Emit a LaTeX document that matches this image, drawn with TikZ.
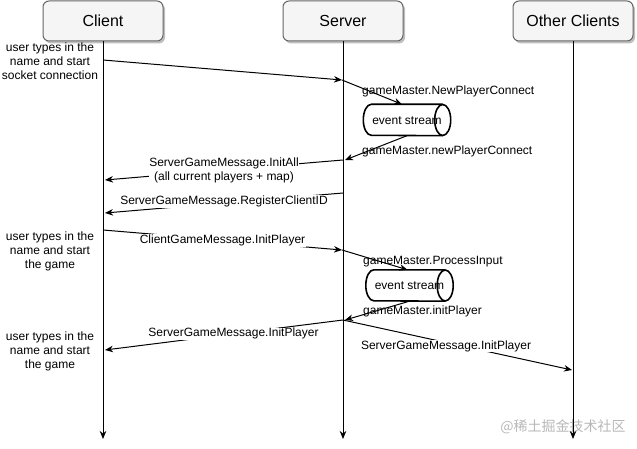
\documentclass[tikz,border=0pt]{standalone}
\usepackage{fontspec}
\setmainfont{Liberation Sans}
\newfontfamily\cjkfont{Noto Sans CJK SC}
\usetikzlibrary{arrows.meta,shadows}
\definecolor{boxfill}{HTML}{F5F5F5}
\definecolor{boxline}{HTML}{666666}
\definecolor{wmgray}{HTML}{B8B8B8}
\begin{document}
\begin{tikzpicture}[x=1pt,y=-1pt,
  actor/.style={draw=boxline, fill=boxfill, rounded corners=6pt, line width=1pt,
    minimum width=120pt, minimum height=40pt, inner sep=0pt,
    font=\fontsize{16}{19}\selectfont,
    drop shadow={shadow xshift=2pt, shadow yshift=-2.5pt, opacity=0.25, fill=black}},
  msg/.style={line width=1pt, -{Stealth[length=8pt,width=6.5pt,inset=2.5pt]}},
  life/.style={line width=1pt, -{Stealth[length=8pt,width=6.5pt,inset=2.5pt]}},
  esbox/.style={minimum width=87pt, minimum height=31pt, inner sep=0pt,
    font=\fontsize{12}{14}\selectfont},
  cylline/.style={line width=1.6pt},
  msglabel/.style={fill=white, inner sep=0.5pt, align=center,
    font=\fontsize{12}{14}\selectfont},
  plainlabel/.style={inner sep=0pt, align=center, font=\fontsize{12}{14}\selectfont},
  sidelabel/.style={inner sep=0pt, anchor=west, font=\fontsize{12}{14}\selectfont}]
\useasboundingbox (0,0) rectangle (637,449);

% actors
\node[actor] (client) at (103,21) {Client};
\node[actor] (server) at (343,21) {Server};
\node[actor] (others) at (573,21) {Other Clients};

% watermark
\node[inner sep=0pt, text=wmgray, font=\cjkfont\fontsize{14}{16}\selectfont] (wm) at (563,427) {@稀土掘金技术社区};

% lifelines
\coordinate (clientend) at (103,439);
\coordinate (serverend) at (343,439);
\coordinate (othersend) at (573,439);
\draw[life] (client.south) -- (clientend);
\draw[life] (server.south) -- (serverend);
\draw[life] (others.south) -- (othersend);

% event stream cylinders
\node[esbox] (es1) at (407,120) {};
\node[esbox] (es2) at (409.5,285.5) {};
\foreach \c in {es1,es2}{
  \draw[cylline] ([xshift=-8pt]\c.north east) -- ([xshift=8pt]\c.north west)
     arc[start angle=270, end angle=90, x radius=8, y radius=15.5]
     -- ([xshift=-8pt]\c.south east);
  \draw[cylline] ([xshift=-8pt]\c.east) ellipse[x radius=8, y radius=15.5];
}
\node[plainlabel] at ([yshift=-0.5pt]es1.center) {event stream};
\node[plainlabel] at ([yshift=-0.5pt]es2.center) {event stream};

% left notes
\node[plainlabel] (note1) at (50,61.5) {user types in the\\name and start\\socket connection};
\node[plainlabel] (note2) at (50,251.5) {user types in the\\name and start\\the game};
\node[plainlabel] (note3) at (50,351.5) {user types in the\\name and start\\the game};

% message points
\coordinate (m1s) at (103,60);
\coordinate (m1e) at (342,80);
\coordinate (m4e) at (345,160);
\coordinate (m5s) at (343,160);
\coordinate (m5e) at (105,180);
\coordinate (m6s) at (343,193);
\coordinate (m6e) at (105,213);
\coordinate (m7s) at (103,230);
\coordinate (m7e) at (342,250);
\coordinate (m10e) at (345,320);
\coordinate (m11s) at (343,320);
\coordinate (m11e) at (105,350);
\coordinate (m12e) at (572,370);

% messages
\draw[msg] (m1s) -- (m1e);
\draw[msg] (m1e) -- ([xshift=-5pt]es1.north);
\node[sidelabel] (l2) at (362,91.5) {gameMaster.NewPlayerConnect};
\draw[msg] (es1.south) -- (m4e);
\node[sidelabel] (l4) at (362,151.5) {gameMaster.newPlayerConnect};
\draw[msg] (m5s) -- node[msglabel, yshift=-0.5pt] {ServerGameMessage.InitAll\\(all current players + map)} (m5e);
\draw[msg] (m6s) -- node[msglabel, yshift=1.5pt] {ServerGameMessage.RegisterClientID} (m6e);
\draw[msg] (m7s) -- node[msglabel, yshift=-0.5pt] {ClientGameMessage.InitPlayer} (m7e);
\draw[msg] (m7e) -- ([xshift=-2pt]es2.north);
\node[sidelabel] (l8) at (363,261.5) {gameMaster.ProcessInput};
\draw[msg] ([xshift=0pt]es2.south) -- (m10e);
\node[sidelabel] (l10) at (363,311.5) {gameMaster.initPlayer};
\draw[msg] (m11s) -- node[msglabel, pos=0.46] {ServerGameMessage.InitPlayer} (m11e);
\draw[msg] (m11s) -- node[msglabel, pos=0.45, yshift=-3.5pt] {ServerGameMessage.InitPlayer} (m12e);
\end{tikzpicture}
\end{document}
